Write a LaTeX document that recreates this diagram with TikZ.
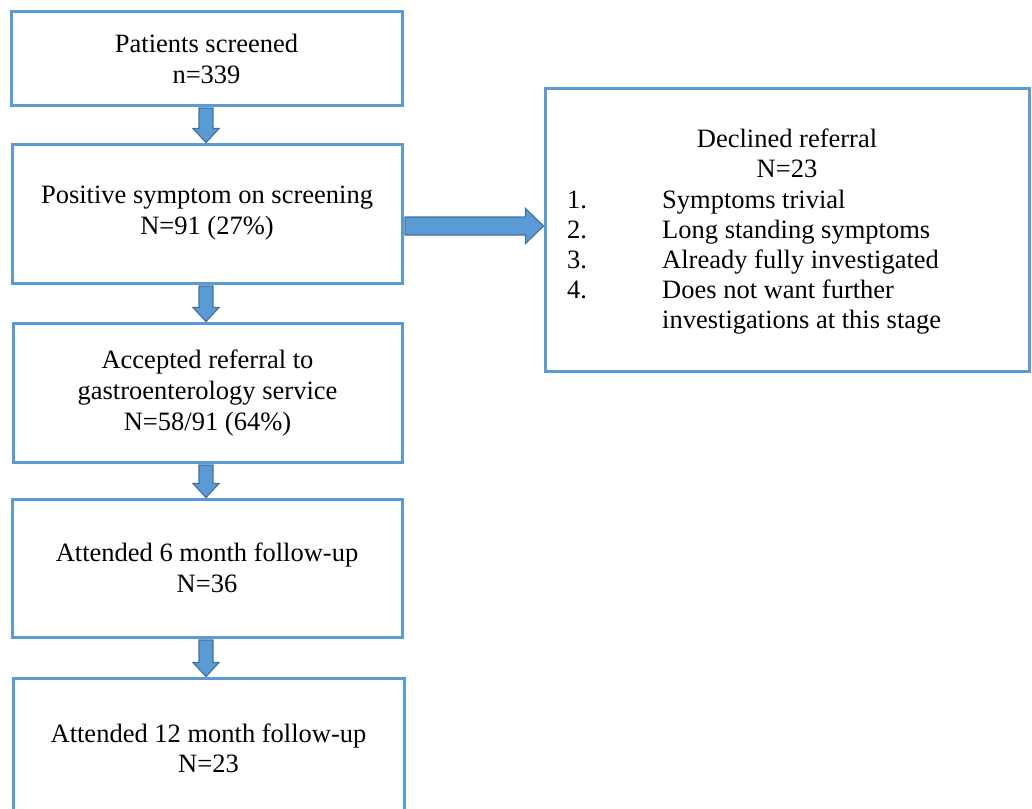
\documentclass[tikz,border=0pt]{standalone}
\usepackage{fontspec}
\setmainfont{Liberation Serif}
\usetikzlibrary{calc}
\definecolor{boxblue}{HTML}{5B9BD5}
\definecolor{arrowedge}{HTML}{41719C}
\begin{document}
\begin{tikzpicture}[x=1pt,y=1pt,
  flowbox/.style={draw=boxblue, line width=3pt, fill=white, align=center, inner sep=0pt,
    font=\fontsize{26.5}{31}\selectfont},
  blockarrow/.style={fill=boxblue, draw=arrowedge, line width=1.2pt, line join=miter},
  txt/.style={inner sep=0pt, font=\fontsize{26.5}{31}\selectfont}]
\useasboundingbox (0,0) rectangle (1032,-808);
\clip (0,0) rectangle (1032,-808);

\node[flowbox, minimum width=391pt, minimum height=93pt] (b1) at (206.5,-58.5)
  {Patients screened\\n=339};
\node[flowbox, minimum width=390pt, minimum height=139pt] (b2) at (207,-213.5)
  {Positive symptom on screening\\N=91 (27\%)};
\node[flowbox, minimum width=389pt, minimum height=139pt] (b3) at (207.5,-392.5)
  {Accepted referral to\\gastroenterology service\\N=58/91 (64\%)};
\node[flowbox, minimum width=390pt, minimum height=138pt] (b4) at (207,-568)
  {Attended 6 month follow-up\\N=36};
\node[flowbox, minimum width=391pt, minimum height=200pt] (b5) at (208.5,-778) {};
\node[txt, anchor=base] (b5a) at (208.5,-742) {Attended 12 month follow-up};
\node[txt, anchor=base] (b5b) at (208.5,-772) {N=23};

\node[flowbox, minimum width=484pt, minimum height=283pt] (d) at (787,-229.5) {};
\node[txt, anchor=base] (dh1) at (787,-147) {Declined referral};
\node[txt, anchor=base] (dh2) at (787,-177) {N=23};
\node[txt, anchor=base west] (n1) at (567,-208) {1.};
\node[txt, anchor=base west] (n2) at (567,-238) {2.};
\node[txt, anchor=base west] (n3) at (567,-268) {3.};
\node[txt, anchor=base west] (n4) at (567,-298) {4.};
\node[txt, anchor=base west] (i1) at (662,-208) {Symptoms trivial};
\node[txt, anchor=base west] (i2) at (662,-238) {Long standing symptoms};
\node[txt, anchor=base west] (i3) at (662,-268) {Already fully investigated};
\node[txt, anchor=base west] (i4) at (662,-298) {Does not want further};
\node[txt, anchor=base west] (i5) at (662,-328) {investigations at this stage};

% vertical block arrows
\foreach \a/\b in {b1/b2, b2/b3, b3/b4, b4/b5}{
  \draw[blockarrow] let \p1=(\a.south), \p2=(\b.north) in
    (206-7,\y1-1.5) -- (206+7,\y1-1.5) -- (206+7,\y2+14) -- (206+13,\y2+14)
    -- (206,\y2) -- (206-13,\y2+14) -- (206-7,\y2+14) -- cycle;
}
% horizontal block arrow
\draw[blockarrow] let \p1=(b2.east), \p2=(d.west) in
  (\x1+1.5pt,\y1-12.5pt+9pt) -- (\x2-18pt,\y1-12.5pt+9pt) -- (\x2-18pt,\y1-12.5pt+17.5pt)
  -- (\x2,\y1-12.5pt) -- (\x2-18pt,\y1-12.5pt-17.5pt) -- (\x2-18pt,\y1-12.5pt-9pt)
  -- (\x1+1.5pt,\y1-12.5pt-9pt) -- cycle;
\end{tikzpicture}
\end{document}
